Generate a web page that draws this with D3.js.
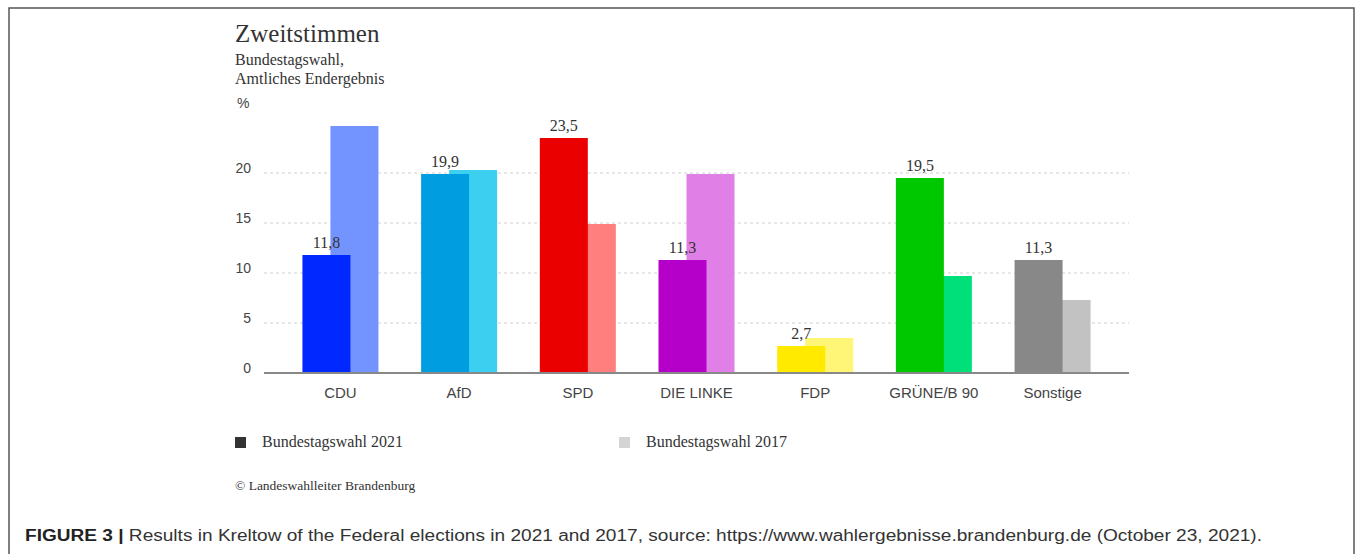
<!DOCTYPE html>
<html>
<head>
<meta charset="utf-8">
<script src="https://cdn.jsdelivr.net/npm/d3@7"></script>
<style>
  html, body { margin: 0; padding: 0; background: #fff; }
  svg { display: block; }
</style>
</head>
<body>
<svg id="chart" width="1355" height="554"></svg>
<script>
const categories = ["CDU", "AfD", "SPD", "DIE LINKE", "FDP", "GRÜNE/B 90", "Sonstige"];
const values2021 = [11.8, 19.9, 23.5, 11.3, 2.7, 19.5, 11.3];
const values2017 = [24.7, 20.3, 14.9, 19.9, 3.5, 9.7, 7.3];
const colors2021 = ["#0028ff", "#009ee0", "#eb0000", "#b400c8", "#ffea00", "#00c800", "#888888"];
const colors2017 = ["#7393ff", "#3ccfef", "#ff7f7f", "#e07fe6", "#fff577", "#00e07a", "#c2c2c2"];
const yTicks = [0, 5, 10, 15, 20];
const seriesNames = ["Bundestagswahl 2021", "Bundestagswahl 2017"];
const legendColors = ["#333333", "#d4d4d4"];

const svg = d3.select("#chart");
const serif = "'Liberation Serif', 'Times New Roman', serif";
const sans = "'Liberation Sans', Arial, sans-serif";

// frame
svg.append("rect").attr("x", 9).attr("y", 8).attr("width", 1345).attr("height", 600)
  .attr("fill", "none").attr("stroke", "#555").attr("stroke-width", 1.5);

const x0 = 264, x1 = 1129;
const x = d3.scalePoint().domain(categories).range([x0, x1]).padding(0.644);
const y = d3.scaleLinear().domain([0, 20]).range([373, 173]);
const barW = 48, off = 14;

// gridlines
svg.append("g").selectAll("line").data(yTicks.filter(d => d > 0)).join("line")
  .attr("x1", x0).attr("x2", x1)
  .attr("y1", d => y(d)).attr("y2", d => y(d))
  .attr("stroke", "#d0d0d0").attr("stroke-width", 1).attr("stroke-dasharray", "3,3");

// y tick labels
svg.append("g").selectAll("text").data(yTicks).join("text")
  .attr("x", 251).attr("y", d => y(d))
  .attr("text-anchor", "end")
  .attr("font-family", sans).attr("font-size", 14).attr("fill", "#444")
  .text(d => d);

// bars 2017 (behind)
svg.append("g").selectAll("rect").data(categories).join("rect")
  .attr("x", (d) => x(d) + off - barW / 2)
  .attr("width", barW)
  .attr("y", (d, i) => y(values2017[i]))
  .attr("height", (d, i) => y(0) - y(values2017[i]))
  .attr("fill", (d, i) => colors2017[i]);

// bars 2021 (front)
svg.append("g").selectAll("rect").data(categories).join("rect")
  .attr("x", (d) => x(d) - off - barW / 2)
  .attr("width", barW)
  .attr("y", (d, i) => y(values2021[i]))
  .attr("height", (d, i) => y(0) - y(values2021[i]))
  .attr("fill", (d, i) => colors2021[i]);

// value labels 2021
const fmt = v => d3.format(".1f")(v).replace(".", ",");
svg.append("g").selectAll("text").data(categories).join("text")
  .attr("x", d => x(d) - off)
  .attr("y", (d, i) => y(values2021[i]) - 7.5)
  .attr("text-anchor", "middle")
  .attr("font-family", serif).attr("font-size", 16).attr("fill", "#333")
  .text((d, i) => fmt(values2021[i]));

// axis baseline
svg.append("line").attr("x1", x0).attr("x2", x1).attr("y1", y(0)).attr("y2", y(0))
  .attr("stroke", "#888").attr("stroke-width", 2);

// category labels
svg.append("g").selectAll("text").data(categories).join("text")
  .attr("x", d => x(d)).attr("y", 397.5)
  .attr("text-anchor", "middle")
  .attr("font-family", sans).attr("font-size", 15).attr("fill", "#444")
  .text(d => d);

// titles
svg.append("text").attr("x", 235).attr("y", 42)
  .attr("font-family", serif).attr("font-size", 25).attr("fill", "#333").text("Zweitstimmen");
svg.append("text").attr("x", 235).attr("y", 64.5)
  .attr("font-family", serif).attr("font-size", 16).attr("fill", "#333").text("Bundestagswahl,");
svg.append("text").attr("x", 235).attr("y", 83.5)
  .attr("font-family", serif).attr("font-size", 16).attr("fill", "#333").text("Amtliches Endergebnis");
svg.append("text").attr("x", 237).attr("y", 108)
  .attr("font-family", sans).attr("font-size", 14).attr("fill", "#444").text("%");

// legend
const legendX = [235, 619];
const lg = svg.append("g").selectAll("g").data(seriesNames).join("g");
lg.append("rect").attr("x", (d, i) => legendX[i]).attr("y", 437).attr("width", 11).attr("height", 11)
  .attr("fill", (d, i) => legendColors[i]);
lg.append("text").attr("x", (d, i) => legendX[i] + 27).attr("y", 447)
  .attr("font-family", serif).attr("font-size", 16).attr("fill", "#333").text(d => d);

// source
svg.append("text").attr("x", 235).attr("y", 490)
  .attr("font-family", serif).attr("font-size", 13.5).attr("fill", "#333")
  .text("© Landeswahlleiter Brandenburg");

// caption
const cap = svg.append("text").attr("x", 25).attr("y", 541)
  .attr("font-family", sans).attr("font-size", 16).attr("fill", "#333");
cap.append("tspan").attr("font-weight", "bold").attr("fill", "#222").text("FIGURE 3 | ");
cap.append("tspan").text("Results in Kreltow of the Federal elections in 2021 and 2017, source: https://www.wahlergebnisse.brandenburg.de (October 23, 2021).");
cap.attr("textLength", 1237).attr("lengthAdjust", "spacingAndGlyphs");
</script>
</body>
</html>
